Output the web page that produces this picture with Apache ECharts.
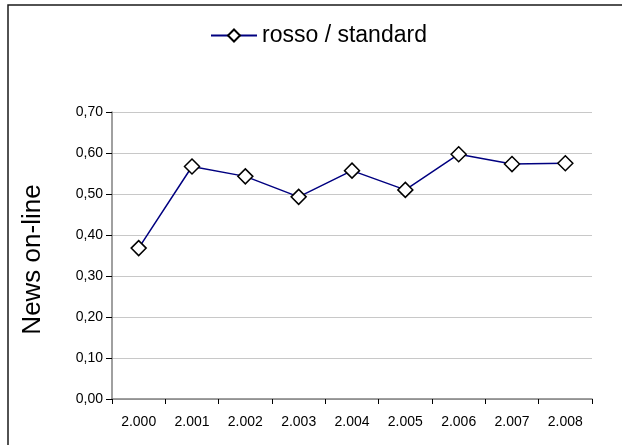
<!DOCTYPE html>
<html>
<head>
<meta charset="utf-8">
<script src="https://cdn.jsdelivr.net/npm/echarts@6/dist/echarts.min.js"></script>
<style>
  html, body { margin: 0; padding: 0; background: #fff; }
  #chart { width: 622px; height: 445px; }
</style>
</head>
<body>
<div id="chart"></div>
<script>
// Anni (etichette dell'asse delle categorie)
const years = ['2.000', '2.001', '2.002', '2.003', '2.004', '2.005', '2.006', '2.007', '2.008'];
// Serie "rosso / standard"
const seriesName = 'rosso / standard';
const rossoStandard = [0.368, 0.567, 0.543, 0.493, 0.557, 0.510, 0.597, 0.573, 0.575];
// Scala dell'asse verticale
const yMin = 0;
const yMax = 0.7;
const yStep = 0.1;
const yTitle = 'News on-line';

const chart = echarts.init(document.getElementById('chart'), null, { renderer: 'canvas' });

const fontFamily = 'Liberation Sans, Arial, sans-serif';

chart.setOption({
  animation: false,
  backgroundColor: '#ffffff',
  graphic: [
    {
      type: 'rect',
      shape: { x: 8, y: 5, width: 800, height: 600 },
      style: { fill: 'none', stroke: '#1a1a1a', lineWidth: 1.5 },
      silent: true
    }
  ],
  legend: {
    data: [seriesName],
    left: 205,
    top: 19,
    itemWidth: 46,
    itemHeight: 15,
    itemGap: 6,
    textStyle: { fontFamily: fontFamily, fontSize: 23, color: '#000' }
  },
  grid: {
    left: 112,
    right: 30,
    top: 112,
    bottom: 46,
    containLabel: false
  },
  xAxis: {
    type: 'category',
    data: years,
    boundaryGap: true,
    axisLine: { lineStyle: { color: '#808080', width: 1.5 } },
    axisTick: { show: true, alignWithLabel: false, length: 5, lineStyle: { color: '#000', width: 1 } },
    axisLabel: { fontFamily: fontFamily, fontSize: 14, color: '#000', margin: 16 },
    splitLine: { show: false }
  },
  yAxis: {
    type: 'value',
    min: yMin,
    max: yMax,
    interval: yStep,
    name: yTitle,
    nameLocation: 'middle',
    nameGap: 66,
    nameRotate: 90,
    nameTextStyle: { fontFamily: fontFamily, fontSize: 26, color: '#000', padding: [0, 8, 0, 0] },
    axisLine: { show: true, lineStyle: { color: '#808080', width: 1.5 } },
    axisTick: { show: true, length: 6, lineStyle: { color: '#000', width: 1 } },
    axisLabel: {
      fontFamily: fontFamily,
      fontSize: 14,
      color: '#000',
      margin: 9,
      formatter: v => v.toFixed(2).replace('.', ',')
    },
    splitLine: { show: true, lineStyle: { color: '#c8c8c8', width: 1 } }
  },
  series: [
    {
      name: seriesName,
      type: 'line',
      data: rossoStandard,
      symbol: 'diamond',
      symbolSize: 15,
      showAllSymbol: true,
      lineStyle: { color: '#000080', width: 1.5 },
      itemStyle: { color: '#ffffff', borderColor: '#000000', borderWidth: 1.5 },
      emphasis: { disabled: true }
    }
  ]
});
</script>
</body>
</html>
